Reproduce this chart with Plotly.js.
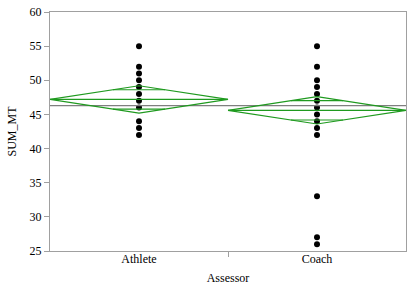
<!DOCTYPE html>
<html>
<head>
<meta charset="utf-8">
<script src="https://cdn.plot.ly/plotly-3.0.1.min.js"></script>
<style>
html,body{margin:0;padding:0;background:#fff;}
#chart{width:415px;height:294px;}
</style>
</head>
<body>
<div id="chart"></div>
<script>
// Data
var categories = ['Athlete', 'Coach'];
var athleteValues = [55, 52, 51, 50, 49, 48, 47, 46, 44, 43, 42];
var coachValues = [55, 52, 50, 49, 48, 47, 46, 45, 44, 43, 42, 33, 27, 26];
var groupMeans = [47.2, 45.6];
var ciHalfWidths = [2.0, 2.0];
var grandMean = 46.3;
var yTickValues = [25, 30, 35, 40, 45, 50, 55, 60];

var green = '#1f9a1f';
var serif = 'Liberation Serif, Times New Roman, serif';
var traces = [];

// Points
var groups = [athleteValues, coachValues];
groups.forEach(function (vals, i) {
  traces.push({
    type: 'scatter', mode: 'markers',
    x: vals.map(function () { return i; }),
    y: vals,
    marker: {color: '#000', size: 6},
    hoverinfo: 'y', showlegend: false
  });
});

// Grand mean line
traces.push({
  type: 'scatter', mode: 'lines',
  x: [-0.5, categories.length - 0.5],
  y: [grandMean, grandMean],
  line: {color: '#7f7f7f', width: 1.2},
  hoverinfo: 'skip', showlegend: false
});

// Means diamonds
var hw = 0.5;
groupMeans.forEach(function (m, i) {
  var c = ciHalfWidths[i];
  traces.push({
    type: 'scatter', mode: 'lines',
    x: [i - hw, i, i + hw, i, i - hw],
    y: [m, m + c, m, m - c, m],
    line: {color: green, width: 1.2},
    hoverinfo: 'skip', showlegend: false
  });
  // mean line
  traces.push({
    type: 'scatter', mode: 'lines',
    x: [i - hw, i + hw],
    y: [m, m],
    line: {color: green, width: 1.2},
    hoverinfo: 'skip', showlegend: false
  });
  // overlap marks
  var off = c / Math.SQRT2;
  var w = hw * (1 - 1 / Math.SQRT2);
  [m + off, m - off].forEach(function (yy) {
    traces.push({
      type: 'scatter', mode: 'lines',
      x: [i - w, i + w],
      y: [yy, yy],
      line: {color: green, width: 1.2},
      hoverinfo: 'skip', showlegend: false
    });
  });
});

// Dummy trace to activate boundary-tick axis
traces.push({
  type: 'scatter', mode: 'markers', x: [0.5], y: [40],
  xaxis: 'x2', marker: {opacity: 0}, hoverinfo: 'skip', showlegend: false
});

var layout = {
  width: 415, height: 294,
  margin: {l: 50, r: 9, t: 12, b: 43},
  paper_bgcolor: '#fff', plot_bgcolor: '#fff',
  font: {family: serif, size: 12, color: '#000'},
  showlegend: false,
  xaxis: {
    range: [-0.5, categories.length - 0.5],
    tickvals: categories.map(function (_, i) { return i; }),
    ticktext: categories,
    ticks: '', showgrid: false, zeroline: false,
    ticklabelstandoff: -3,
    showline: true, mirror: true, linecolor: '#a0a0a0', linewidth: 1,
    tickfont: {family: serif, size: 12, color: '#000'},
    title: {text: 'Assessor', font: {family: serif, size: 12, color: '#000'}, standoff: 8}
  },
  xaxis2: {
    overlaying: 'x', side: 'bottom', anchor: 'y',
    range: [-0.5, categories.length - 0.5],
    tickvals: [0.5], showticklabels: false,
    ticks: 'outside', ticklen: 5, tickcolor: '#a0a0a0',
    showgrid: false, zeroline: false, showline: false
  },
  yaxis: {
    range: [25, 60],
    tickvals: yTickValues,
    ticks: 'outside', ticklen: 5, tickcolor: '#a0a0a0',
    showgrid: false, zeroline: false,
    showline: true, mirror: true, linecolor: '#a0a0a0', linewidth: 1,
    tickfont: {family: serif, size: 12, color: '#000'},
    title: {text: 'SUM_MT', font: {family: serif, size: 12, color: '#000'}, standoff: 10}
  }
};

Plotly.newPlot('chart', traces, layout, {staticPlot: true, displayModeBar: false});
</script>
</body>
</html>
